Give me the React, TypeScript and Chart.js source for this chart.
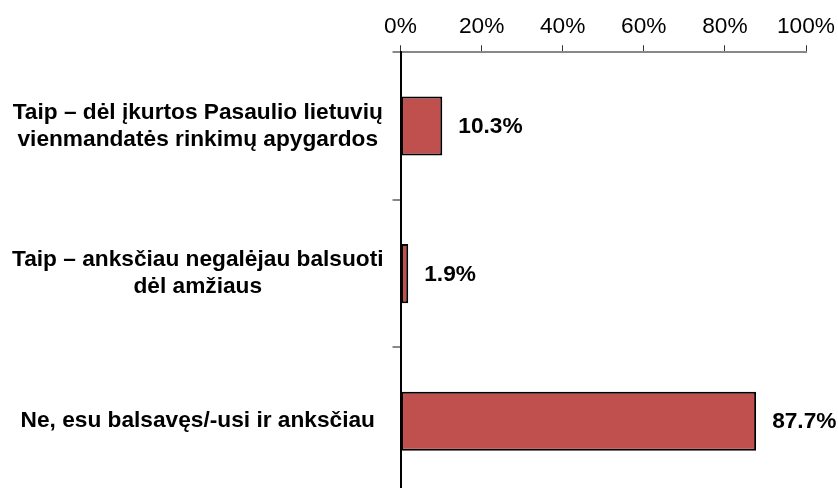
import React, { useEffect, useRef } from "react";
import { Chart, registerables } from "chart.js";

Chart.register(...registerables);

const categories: string[][] = [
  ["Taip – dėl įkurtos Pasaulio lietuvių", "vienmandatės rinkimų apygardos"],
  ["Taip – anksčiau negalėjau balsuoti", "dėl amžiaus"],
  ["Ne, esu balsavęs/-usi ir anksčiau"],
];
const values: number[] = [10.3, 1.9, 87.7];
const xTicks: number[] = [0, 20, 40, 60, 80, 100];

const FONT = "'Liberation Sans', Arial, sans-serif";
const FS = 22.7;

const valueLabels = {
  id: "valueLabels",
  afterDatasetsDraw(chart: any) {
    const ctx = chart.ctx;
    const meta = chart.getDatasetMeta(0);
    ctx.save();
    ctx.font = `bold ${FS}px ${FONT}`;
    ctx.fillStyle = "#000";
    ctx.textAlign = "left";
    ctx.textBaseline = "middle";
    meta.data.forEach((bar: any, i: number) => {
      ctx.fillText(values[i].toFixed(1) + "%", bar.x + 16, bar.y + 1);
    });
    ctx.restore();
  },
};

const zeroPad = (s: any) => {
  s.paddingTop = 0;
  s.paddingBottom = 0;
  s.paddingLeft = 0;
  s.paddingRight = 0;
};

export default function App() {
  const ref = useRef<HTMLCanvasElement>(null);
  useEffect(() => {
    if (!ref.current) return;
    const chart = new Chart(ref.current, {
      type: "bar",
      data: {
        labels: categories,
        datasets: [
          {
            data: values,
            backgroundColor: "#C0504D",
            borderColor: "#000000",
            borderWidth: 2,
            borderSkipped: false,
            barPercentage: 0.4,
            categoryPercentage: 1,
          },
        ],
      },
      options: {
        indexAxis: "y",
        responsive: false,
        animation: false,
        layout: { padding: { left: 3, right: 32, top: 8, bottom: 5 } },
        plugins: { legend: { display: false }, tooltip: { enabled: false } },
        scales: {
          x: {
            position: "top",
            min: 0,
            max: 100,
            afterBuildTicks: (axis: any) => {
              axis.ticks = xTicks.map((v) => ({ value: v }));
            },
            afterFit: zeroPad,
            ticks: {
              callback: (v: any) => v + "%",
              color: "#000",
              font: { family: FONT, size: FS },
              padding: 5,
              maxRotation: 0,
            },
            grid: {
              drawOnChartArea: false,
              drawTicks: true,
              tickLength: 7,
              color: "#333",
            },
            border: { color: "#888", width: 2 },
          },
          y: {
            type: "category",
            afterFit: zeroPad,
            ticks: {
              color: "#000",
              font: { family: FONT, size: FS, weight: "bold" },
              padding: 9,
              crossAlign: "center",
              autoSkip: false,
            },
            grid: {
              offset: true,
              drawOnChartArea: false,
              tickLength: 8,
              color: "#888",
              lineWidth: 2,
            },
            border: { color: "#000", width: 2 },
          },
        },
      },
      plugins: [valueLabels],
    } as any);
    return () => chart.destroy();
  }, []);
  return (
    <div
      style={{
        position: "fixed",
        left: 0,
        top: 0,
        width: 838,
        height: 488,
        overflow: "hidden",
        background: "#fff",
      }}
    >
      <canvas ref={ref} width={838} height={500} style={{ width: 838, height: 500 }} />
    </div>
  );
}
